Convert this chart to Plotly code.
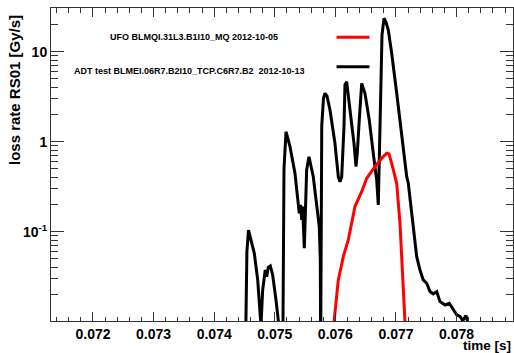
import plotly.graph_objects as go

# ADT test BLMEI.06R7.B2I10_TCP.C6R7.B2 (black)
black_t = [0.074517, 0.074540, 0.074566, 0.074607, 0.074662, 0.074718, 0.074756, 0.074772,
           0.074800, 0.074843, 0.074866, 0.074893, 0.074926, 0.074965, 0.075020, 0.075064,
           0.075135, 0.075152, 0.075185, 0.075251, 0.075333, 0.075388, 0.075404, 0.075427,
           0.075444, 0.075460, 0.075487, 0.075526, 0.075564, 0.075635, 0.075691, 0.075734,
           0.075751, 0.075757, 0.075775, 0.075804, 0.075828, 0.075861, 0.075911, 0.075993,
           0.076048, 0.076076, 0.076104, 0.076142, 0.076158, 0.076186, 0.076241, 0.076307,
           0.076340, 0.076361, 0.076394, 0.076434, 0.076488, 0.076559, 0.076625, 0.076681,
           0.076708, 0.076724, 0.076748, 0.076769, 0.076802, 0.076835, 0.076873, 0.076929,
           0.077012, 0.077094, 0.077177, 0.077203, 0.077285, 0.077342, 0.077396, 0.077450,
           0.077507, 0.077561, 0.077616, 0.077672, 0.077726, 0.077809, 0.077880, 0.077946,
           0.078002, 0.078056, 0.078101, 0.078155, 0.078193]
black_v = [0.005, 0.06, 0.104, 0.0809, 0.0575, 0.0291, 0.0147, 0.009,
           0.0225, 0.0375, 0.0316, 0.0402, 0.0416, 0.033, 0.0174, 0.0095,
           0.009, 0.5, 1.29, 0.88, 0.445, 0.225, 0.160, 0.198,
           0.135, 0.190, 0.0654, 0.485, 0.681, 0.408, 0.207, 0.1137,
           0.0485, 0.005, 1.5, 3.06, 3.45, 3.22, 2.25, 0.96,
           0.408, 0.359, 0.408, 1.47, 4.27, 4.64, 2.25, 0.96,
           0.527, 0.743, 1.74, 4.45, 3.45, 1.74, 0.743, 0.375,
           0.198, 0.626, 5.27, 15.3, 23.5, 21.4, 17.4, 9.6,
           3.45, 1.137, 0.408, 0.345, 0.124, 0.0527, 0.0375, 0.0291,
           0.0267, 0.0216, 0.0203, 0.0216, 0.0167, 0.0153, 0.0160, 0.0135,
           0.0119, 0.0114, 0.01026, 0.01166, 0.0096]

# UFO BLMQI.31L3.B1I10_MQ (red)
red_t = [0.075977, 0.076010, 0.076048, 0.076092, 0.076130, 0.076213, 0.076323, 0.076434,
         0.076517, 0.076653, 0.076764, 0.076847, 0.076885, 0.076929, 0.077012, 0.077066,
         0.077111, 0.077149]
red_v = [0.0098, 0.0174, 0.0291, 0.0395, 0.0527, 0.0809, 0.190, 0.278,
         0.392, 0.527, 0.654, 0.743, 0.73, 0.575, 0.345, 0.124,
         0.0345, 0.0098]

legend_labels = ["UFO BLMQI.31L3.B1I10_MQ 2012-10-05",
                 "ADT test BLMEI.06R7.B2I10_TCP.C6R7.B2 \u00a02012-10-13"]
x_ticks = [0.072, 0.073, 0.074, 0.075, 0.076, 0.077, 0.078]
y_ticks = [0.1, 1, 10]
y_ticktext = ["10<sup>-1</sup>", "1", "10"]
y_minor = [m * d for d in (0.01, 0.1, 1, 10) for m in range(2, 10)]

FONT = "Liberation Sans, Arial, Helvetica, sans-serif"

fig = go.Figure()
fig.add_trace(go.Scatter(x=black_t, y=black_v, mode="lines",
                         line=dict(color="black", width=3), showlegend=False))
fig.add_trace(go.Scatter(x=red_t, y=red_v, mode="lines",
                         line=dict(color="#ff0000", width=3), showlegend=False))

W, H = 514, 353
ml, mr, mt, mb = 51, 1, 8, 32
pw, ph = W - ml - mr, H - mt - mb

def px(xp):
    return (xp - ml) / pw

def py(yp):
    return 1 - (yp - mt) / ph

fig.update_layout(
    width=W, height=H,
    margin=dict(l=ml, r=mr, t=mt, b=mb, pad=0),
    paper_bgcolor="white", plot_bgcolor="white",
    font=dict(family=FONT, color="black"),
    xaxis=dict(range=[0.071307, 0.078931], tickvals=x_ticks, tickformat=".3f",
               ticks="inside", ticklen=9, tickwidth=1, tickcolor="#333",
               showline=True, linecolor="#333", linewidth=1, mirror="ticks",
               showgrid=False, zeroline=False,
               tickfont=dict(size=14, family=FONT, weight="bold"),
               minor=dict(dtick=0.0002, tick0=0.072, ticks="inside", ticklen=4.5,
                          tickcolor="#333", tickwidth=1, showgrid=False)),
    yaxis=dict(type="log", range=[-1.993, 1.486], tickvals=y_ticks, ticktext=y_ticktext,
               ticks="inside", ticklen=13, tickwidth=1, tickcolor="#333",
               showline=True, linecolor="#333", linewidth=1, mirror="ticks",
               showgrid=False, zeroline=False,
               tickfont=dict(size=14, family=FONT, weight="bold"),
               minor=dict(tickmode="array", tickvals=y_minor, ticks="inside", ticklen=7,
                          tickcolor="#333", tickwidth=1, showgrid=False)),
)

# axis titles
fig.add_annotation(text="loss rate RS01 [Gy/s]", xref="paper", yref="paper",
                   x=px(14), y=py(13), xanchor="center", yanchor="top", textangle=-90,
                   showarrow=False, font=dict(size=15, family=FONT, weight="bold"))
fig.add_annotation(text="time [s]", xref="paper", yref="paper",
                   x=px(512), y=py(345.5), xanchor="right", yanchor="middle",
                   borderpad=0, showarrow=False,
                   font=dict(size=13.5, family=FONT, weight="bold"))

# legend
fig.add_annotation(text=legend_labels[0], xref="paper", yref="paper",
                   x=px(108), y=py(36.5), xanchor="left", yanchor="middle",
                   showarrow=False, font=dict(size=9, family=FONT, weight="bold"))
fig.add_annotation(text=legend_labels[1], xref="paper", yref="paper",
                   x=px(72), y=py(71), xanchor="left", yanchor="middle",
                   showarrow=False, font=dict(size=9, family=FONT, weight="bold"))
fig.add_shape(type="line", xref="paper", yref="paper", x0=px(336.5), x1=px(369.5),
              y0=py(37.3), y1=py(37.3), line=dict(color="#ff0000", width=3))
fig.add_shape(type="line", xref="paper", yref="paper", x0=px(336.5), x1=px(369.5),
              y0=py(66.7), y1=py(66.7), line=dict(color="black", width=3))

fig.write_html("out.html")
